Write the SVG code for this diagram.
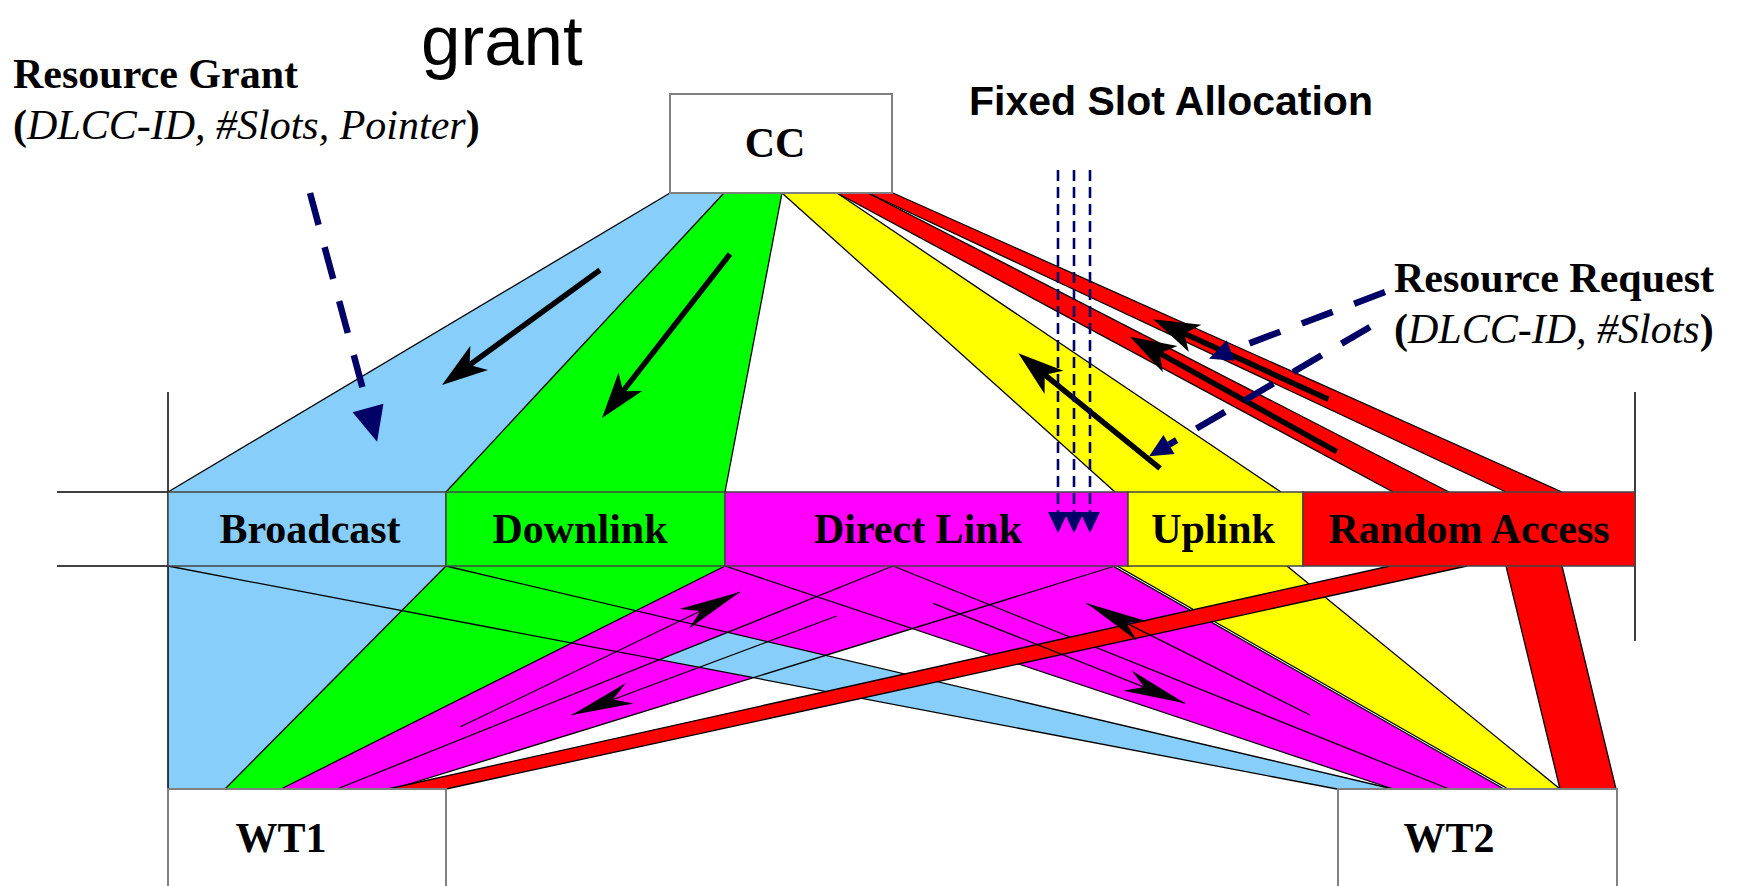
<svg xmlns="http://www.w3.org/2000/svg" width="1737" height="886" viewBox="0 0 1737 886">
<style>
.edge{stroke:#000;stroke-width:1.3;fill:none}
.box{stroke:#444;stroke-width:1.5}
.node{fill:#fff;stroke:#808080;stroke-width:2}
.lbl{font-family:"Liberation Serif","Times New Roman",serif;font-weight:bold;font-size:42px;fill:#000}
.it{font-style:italic;font-weight:normal}
.sans{font-family:"Liberation Sans",Arial,sans-serif;fill:#000}
.thick{stroke:#000;stroke-width:5.5;fill:none;marker-end:url(#ahThick)}
.thin{stroke:#000;stroke-width:1.3;fill:none;marker-end:url(#ahThin)}
.navy{stroke:#000066;stroke-width:6.5;fill:none;stroke-dasharray:33 23}
.slot{stroke:#000066;stroke-width:2.6;fill:none;stroke-dasharray:11 6;marker-end:url(#ahSlot)}
.blue{fill:#87CEFA}.green{fill:#00FF00}.mag{fill:#FF00FF}.yel{fill:#FFFF00}.red{fill:#FF0000}
</style>
<defs>
<marker id="ahThick" markerUnits="userSpaceOnUse" markerWidth="80" markerHeight="80" orient="auto" overflow="visible"><path d="M10,0 L-36,-15 L-24,0 L-36,15 Z" fill="#000"/></marker>
<marker id="ahThin" markerUnits="userSpaceOnUse" markerWidth="80" markerHeight="80" orient="auto" overflow="visible"><path d="M0,0 L-62,-11 L-44,0 L-62,11 Z" fill="#000"/></marker>
<marker id="ahNavyBig" markerUnits="userSpaceOnUse" markerWidth="80" markerHeight="80" orient="auto" overflow="visible"><path d="M0,-16 L35,0 L0,16 Z" fill="#000066"/></marker>
<marker id="ahNavySmall" markerUnits="userSpaceOnUse" markerWidth="80" markerHeight="80" orient="auto" overflow="visible"><path d="M0,-11 L23,0 L0,11 Z" fill="#000066"/></marker>
<marker id="ahSlot" markerUnits="userSpaceOnUse" markerWidth="80" markerHeight="80" orient="auto" overflow="visible"><path d="M0,-10 L21,0 L0,10 Z" fill="#000066"/></marker>
</defs>
<rect width="1737" height="886" fill="#fff"/>

<g id="connectors">
  <g id="fills">
    <polygon class="blue" points="670,193 724,193 446,492 168,492"/>
    <polygon class="green" points="724,193 782,193 725,492 446,492"/>
    <polygon class="yel" points="782,193 837,193 1281,492 1115,492"/>
    <polygon class="red" points="837,193 868,193 1449,492 1393,492"/>
    <polygon class="red" points="868,193 893,193 1562,492 1506,492"/>
    <polygon class="mag" points="893,566 1115,566 393,789 337,789"/>
    <polygon class="mag" points="725,566 893,566 1449,789 1393,789"/>
    <polygon class="mag" points="893,566 1115,566 1506,789 1449,789"/>
    <polygon class="blue" points="168,566 446,566 1393,789 1337,789"/>
    <polygon class="blue" points="168,566 446,566 225,789 168,789"/>
    <polygon class="green" points="446,566 725,566 281,789 225,789"/>
    <polygon class="mag" points="725,566 893,566 337,789 281,789"/>
    <polygon class="yel" points="1115,566 1287,566 1560,789 1506,789"/>
    <polygon class="red" points="1506,566 1562,566 1616,789 1560,789"/>
  </g>
  <g id="edges">
    <line class="edge" x1="670" y1="193" x2="168" y2="492"/>
    <line class="edge" x1="724" y1="193" x2="446" y2="492"/>
    <line class="edge" x1="782" y1="193" x2="725" y2="492"/>
    <line class="edge" x1="782" y1="193" x2="1115" y2="492"/>
    <line class="edge" x1="837" y1="193" x2="1281" y2="492"/>
    <line class="edge" x1="837" y1="193" x2="1393" y2="492"/>
    <line class="edge" x1="868" y1="193" x2="1449" y2="492"/>
    <line class="edge" x1="868" y1="193" x2="1506" y2="492"/>
    <line class="edge" x1="893" y1="193" x2="1562" y2="492"/>
    <line class="edge" x1="446" y1="566" x2="225" y2="789"/>
    <line class="edge" x1="725" y1="566" x2="281" y2="789"/>
    <line class="edge" x1="893" y1="566" x2="337" y2="789"/>
    <line class="edge" x1="1115" y1="566" x2="393" y2="789"/>
    <line class="edge" x1="168" y1="566" x2="1337" y2="789"/>
    <line class="edge" x1="446" y1="566" x2="1393" y2="789"/>
    <line class="edge" x1="725" y1="566" x2="1393" y2="789"/>
    <line class="edge" x1="893" y1="566" x2="1449" y2="789"/>
    <line x1="1115" y1="566" x2="1506" y2="789" stroke="#000" stroke-width="3.2"/>
    <line x1="1115" y1="566" x2="1506" y2="789" stroke="#fff" stroke-width="1"/>
    <line class="edge" x1="1287" y1="566" x2="1560" y2="789"/>
    <line class="edge" x1="1506" y1="566" x2="1560" y2="789"/>
    <line class="edge" x1="1562" y1="566" x2="1616" y2="789"/>
  </g>
  <g id="ra-wt1">
    <polygon class="red" points="1390,566 1467,566 446,789 388,789"/>
    <line class="edge" x1="1390" y1="566" x2="388" y2="789"/>
    <line class="edge" x1="1467" y1="566" x2="446" y2="789"/>
  </g>
  <g id="flow-arrows">
    <line class="thick" x1="600" y1="270" x2="450.1" y2="379.1"/>
    <line class="thick" x1="730" y1="254" x2="608.2" y2="410.1"/>
    <line class="thick" x1="1160" y1="468.3" x2="1026.1" y2="359.6"/>
    <line class="thick" x1="1328.3" y1="399.3" x2="1162.4" y2="323.5"/>
    <line class="thick" x1="1336.7" y1="451.7" x2="1138.7" y2="341.6"/>
    <line class="thin" x1="460" y1="727" x2="740" y2="592"/>
    <line class="thin" x1="836.7" y1="616" x2="571.7" y2="715"/>
    <line class="thin" x1="933.3" y1="603.3" x2="1185" y2="703.3"/>
    <line class="thin" x1="1310" y1="715" x2="1086.7" y2="603.3"/>
  </g>
</g>

<g id="frame" stroke="#000" stroke-width="1.5">
  <line x1="57" y1="492" x2="168" y2="492"/>
  <line x1="57" y1="566" x2="168" y2="566"/>
  <line x1="168" y1="392" x2="168" y2="886"/>
  <line x1="1635" y1="392" x2="1635" y2="641"/>
</g>

<g id="cc"><rect class="node" x="670" y="94" width="222" height="99"/><text class="lbl" x="775" y="157" text-anchor="middle">CC</text></g>
<g id="broadcast"><rect class="box blue" x="168" y="492" width="278" height="74"/><text class="lbl" x="310" y="543" text-anchor="middle">Broadcast</text></g>
<g id="downlink"><rect class="box green" x="446" y="492" width="279" height="74"/><text class="lbl" x="580" y="543" text-anchor="middle">Downlink</text></g>
<g id="directlink"><rect class="box mag" x="725" y="492" width="403" height="74"/><text class="lbl" x="918" y="543" text-anchor="middle">Direct Link</text></g>
<g id="uplink"><rect class="box yel" x="1128" y="492" width="175" height="74"/><text class="lbl" x="1213" y="543" text-anchor="middle">Uplink</text></g>
<g id="randomaccess"><rect class="box red" x="1303" y="492" width="332" height="74"/><text class="lbl" x="1469" y="543" text-anchor="middle">Random Access</text></g>
<g id="wt1"><rect class="node" x="168" y="789" width="278" height="104"/><text class="lbl" x="281" y="852" text-anchor="middle">WT1</text></g>
<g id="wt2"><rect class="node" x="1338" y="789" width="279" height="104"/><text class="lbl" x="1449" y="852" text-anchor="middle">WT2</text></g>

<g id="signalling">
  <line class="navy" x1="310" y1="193" x2="368" y2="408" marker-end="url(#ahNavyBig)"/>
  <line class="navy" x1="1385" y1="292" x2="1230.6" y2="350.5" marker-end="url(#ahNavySmall)"/>
  <line class="navy" x1="1370" y1="327" x2="1169" y2="444.6" marker-end="url(#ahNavySmall)"/>
  <line class="slot" x1="1058" y1="170" x2="1058" y2="512"/>
  <line class="slot" x1="1074" y1="170" x2="1074" y2="512"/>
  <line class="slot" x1="1090" y1="170" x2="1090" y2="512"/>
</g>

<g id="labels">
  <text class="sans" x="421" y="65" font-size="71">grant</text>
  <text class="lbl" x="13" y="88">Resource Grant</text>
  <text class="lbl" x="13" y="139">(<tspan class="it">DLCC-ID, #Slots, Pointer</tspan>)</text>
  <text class="sans" x="969" y="115" font-size="41" font-weight="bold">Fixed Slot Allocation</text>
  <text class="lbl" x="1394" y="292">Resource Request</text>
  <text class="lbl" x="1394" y="343">(<tspan class="it">DLCC-ID, #Slots</tspan>)</text>
</g>
</svg>
